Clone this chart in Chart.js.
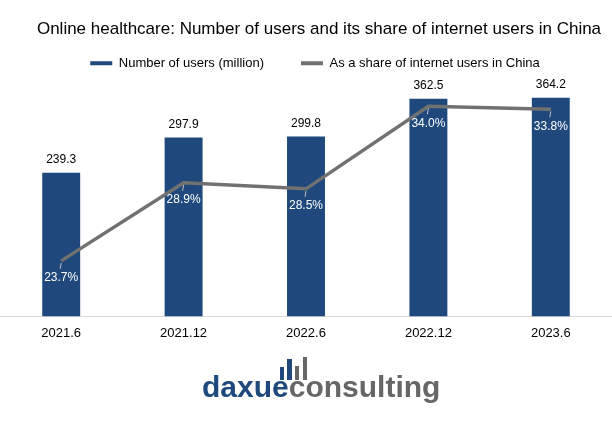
<!doctype html>
<html lang="en">
<head>
    <meta charset="utf-8">
    <title>Online healthcare users in China</title>
    <script src="https://cdn.jsdelivr.net/npm/chart.js@4.4.0/dist/chart.umd.min.js"></script>
    <style>
        html, body { margin: 0; padding: 0; background: #fff; }
        .wrap { position: relative; width: 612px; height: 436px; }
        .logo { position: absolute; left: 202px; top: 372px; font: bold 30px 'Liberation Sans', Arial, sans-serif; line-height: 30px; white-space: nowrap; }
        .logo .dx { color: #1f497d; }
        .logo .cs { color: #666666; }
        .ico { position: absolute; width: 4px; }
    </style>
</head>
<body>
    <div class="wrap">
        <canvas id="chart" width="612" height="436"></canvas>
        <div class="ico" style="left:280px; top:367px; height:13px; background:#1f497d"></div>
        <div class="ico" style="left:287px; top:359px; height:21px; background:#1f497d; width:5px"></div>
        <div class="ico" style="left:295px; top:366px; height:14px; background:#666666"></div>
        <div class="ico" style="left:303px; top:357px; height:23px; background:#666666"></div>
        <div class="logo"><span class="dx">daxue</span><span class="cs">consulting</span></div>
    </div>

    <script>
        const periods = ['2021.6', '2021.12', '2022.6', '2022.12', '2023.6'];
        const users = [239.3, 297.9, 299.8, 362.5, 364.2];
        const sharePct = [23.7, 28.9, 28.5, 34.0, 33.8];

        const BLUE = '#1f497d';
        const GREY = '#717171';

        Chart.defaults.font.family = "'Liberation Sans', Arial, sans-serif";
        Chart.defaults.color = '#000';

        // excel-ish layout tweaks: nudge title/legend sideways, trim legend height
        const layoutTweak = {
            id: 'layoutTweak',
            beforeInit(chart) {
                const fit = chart.legend.fit;
                chart.legend.fit = function () {
                    fit.call(this);
                    this.height -= 3.5;
                };
            },
            afterLayout(chart) {
                chart.legend.left += 9;
                chart.legend.right += 9;
                chart.titleBlock.left += 13;
                chart.titleBlock.right += 13;
            }
        };

        // value labels: numbers above bars, white percentages under the line
        const valueLabels = {
            id: 'valueLabels',
            afterDatasetsDraw(chart) {
                const ctx = chart.ctx;
                ctx.save();
                ctx.textAlign = 'center';
                ctx.textBaseline = 'middle';

                const barMeta = chart.getDatasetMeta(1);
                ctx.font = "12px 'Liberation Sans', Arial, sans-serif";
                ctx.fillStyle = '#000';
                barMeta.data.forEach((bar, i) => {
                    ctx.fillText(users[i].toFixed(1), bar.x, bar.y - 13);
                });

                const lineMeta = chart.getDatasetMeta(0);
                lineMeta.data.forEach((pt, i) => {
                    ctx.strokeStyle = '#bfbfbf';
                    ctx.lineWidth = 1;
                    ctx.beginPath();
                    ctx.moveTo(pt.x, pt.y + 2);
                    ctx.lineTo(pt.x - 1, pt.y + 8);
                    ctx.stroke();
                    ctx.fillStyle = '#fff';
                    ctx.fillText(sharePct[i].toFixed(1) + '%', pt.x, pt.y + 17);
                });
                ctx.restore();
            }
        };

        new Chart(document.getElementById('chart'), {
            type: 'bar',
            data: {
                labels: periods,
                datasets: [
                    {
                        type: 'line',
                        label: 'As a share of internet users in China',
                        data: sharePct,
                        yAxisID: 'yPct',
                        borderColor: GREY,
                        backgroundColor: GREY,
                        borderWidth: 3.5,
                        pointRadius: 0,
                        tension: 0,
                        order: 0
                    },
                    {
                        label: 'Number of users (million)',
                        data: users,
                        yAxisID: 'yUsers',
                        backgroundColor: BLUE,
                        barPercentage: 0.31,
                        categoryPercentage: 1,
                        order: 1
                    }
                ]
            },
            options: {
                responsive: false,
                animation: false,
                layout: { padding: { left: 0, right: 0, top: 0, bottom: 86 } },
                plugins: {
                    title: {
                        display: true,
                        text: 'Online healthcare: Number of users and its share of internet users in China',
                        font: { size: 17, weight: 'normal' },
                        color: '#000',
                        padding: { top: 18.8, bottom: -19.4 }
                    },
                    legend: {
                        display: true,
                        position: 'top',
                        labels: {
                            boxWidth: 22,
                            boxHeight: 4,
                            padding: 37,
                            font: { size: 13 },
                            color: '#000',
                            // bars first in the legend, even though the line is drawn on top
                            sort: (a, b) => b.datasetIndex - a.datasetIndex,
                            generateLabels(chart) {
                                return Chart.defaults.plugins.legend.labels.generateLabels(chart).map(item => {
                                    item.lineWidth = 0;
                                    return item;
                                });
                            }
                        }
                    },
                    tooltip: { enabled: false }
                },
                scales: {
                    x: {
                        grid: { display: false, drawTicks: false },
                        border: { display: true, color: '#d9d9d9', width: 1 },
                        ticks: { font: { size: 13 }, color: '#000', padding: 9 }
                    },
                    yUsers: {
                        display: false,
                        min: 0,
                        max: 400
                    },
                    yPct: {
                        display: false,
                        min: 20,
                        max: 36
                    }
                }
            },
            plugins: [layoutTweak, valueLabels]
        });
    </script>
</body>
</html>
